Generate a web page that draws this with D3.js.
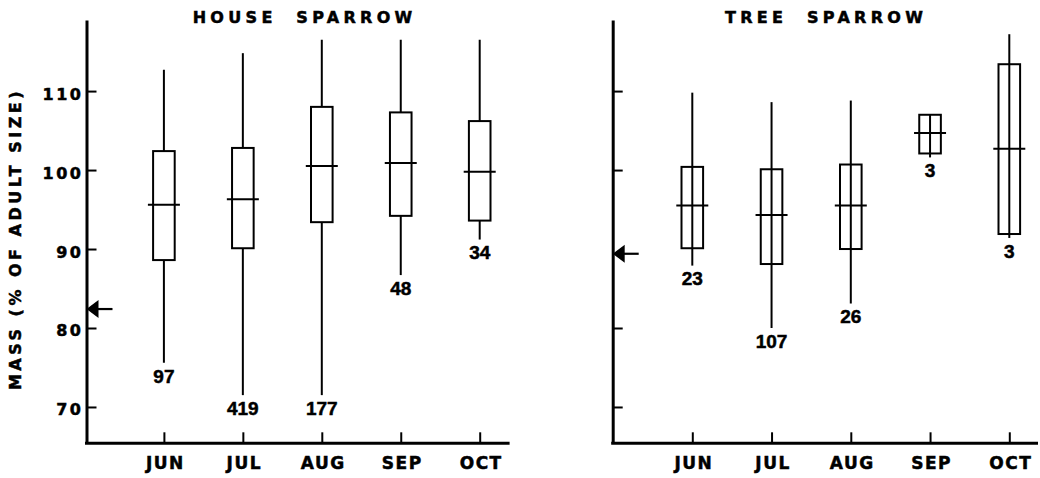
<!DOCTYPE html>
<html>
<head>
<meta charset="utf-8">
<script src="https://cdn.jsdelivr.net/npm/d3@7"></script>
<style>
  html, body { margin: 0; padding: 0; background: #fff; }
  svg { display: block; }
</style>
</head>
<body>
<svg id="chart" width="1040" height="478"></svg>
<script>
// ---------- data ----------
const months = ["JUN", "JUL", "AUG", "SEP", "OCT"];
const yTickValues = [70, 80, 90, 100, 110];
const yTickValuesTree = [70, 80, 100, 110];
const yLabel = "MASS (% OF ADULT SIZE)";

const houseTitle = "HOUSE  SPARROW";
const houseMin    = [75.6, 71.5, 71.5, 86.7, 91.2];
const houseQ1     = [88.6, 90.1, 93.4, 94.2, 93.6];
const houseMedian = [95.6, 96.3, 100.5, 100.9, 99.8];
const houseQ3     = [102.4, 102.8, 108.0, 107.3, 106.2];
const houseMax    = [112.7, 114.8, 116.5, 116.5, 116.5];
const houseN      = [97, 419, 177, 48, 34];
const houseArrow  = 82.4;

const treeTitle = "TREE  SPARROW";
const treeMin    = [87.9, 80.0, 83.1, 101.6, 91.4];
const treeQ1     = [90.1, 88.1, 90.0, 102.1, 91.9];
const treeMedian = [95.5, 94.3, 95.5, 104.7, 102.7];
const treeQ3     = [100.4, 100.1, 100.7, 107.0, 113.4];
const treeMax    = [109.8, 108.6, 108.8, 107.0, 117.2];
const treeN      = [23, 107, 26, 3, 3];
const treeArrow  = 89.4;

const yDomain = [65.4, 119];

// ---------- drawing ----------
const svg = d3.select("#chart");
svg.append("rect").attr("width", 1040).attr("height", 478).attr("fill", "#fff");

const wideFont = "'DejaVu Sans', sans-serif";
const numFont = "'Liberation Sans', Arial, sans-serif";
const ink = "#000";
const textStroke = 0.5;

const y = d3.scaleLinear().domain(yDomain).range([443.3, 20]);

function makeRows(mins, q1s, meds, q3s, maxs, ns) {
  return months.map((m, i) => ({
    month: m, min: mins[i], q1: q1s[i], med: meds[i], q3: q3s[i], max: maxs[i], n: ns[i]
  }));
}

const panels = [
  {
    title: houseTitle, titleX: 302.5, titleY: 23.3,
    axisX: 86.5, axisEnd: 509.6, xRange: [163.9, 479.7],
    rows: makeRows(houseMin, houseQ1, houseMedian, houseQ3, houseMax, houseN),
    arrow: houseArrow, through: false, labels: true, ticks: yTickValues
  },
  {
    title: treeTitle, titleX: 824, titleY: 22.7,
    axisX: 612.7, axisEnd: 1038, xRange: [692.3, 1009.3],
    rows: makeRows(treeMin, treeQ1, treeMedian, treeQ3, treeMax, treeN),
    arrow: treeArrow, through: true, labels: false, ticks: yTickValuesTree
  }
];

const boxW = 21.6, medW = 32;

function heavy(sel) {
  return sel.attr("stroke", ink).attr("stroke-width", textStroke).attr("fill", ink);
}

panels.forEach(p => {
  const x = d3.scalePoint().domain(months).range(p.xRange).padding(0);
  const g = svg.append("g");

  // title
  g.append("text")
    .attr("x", p.titleX + 2.1).attr("y", p.titleY)
    .attr("text-anchor", "middle")
    .attr("font-family", wideFont).attr("font-weight", "bold")
    .attr("font-size", 16).attr("letter-spacing", "4.3px")
    .style("white-space", "pre")
    .call(heavy)
    .text(p.title);

  // y axis
  const yAxis = d3.axisLeft(y)
    .tickValues(p.ticks)
    .tickSizeInner(-10).tickSizeOuter(0)
    .tickPadding(3)
    .tickFormat(p.labels ? d3.format("d") : () => "");
  const ya = g.append("g").attr("transform", `translate(${p.axisX},0)`).call(yAxis);
  ya.select(".domain").attr("stroke", ink).attr("stroke-width", 3);
  ya.selectAll(".tick line").attr("stroke", ink).attr("stroke-width", 2);
  ya.selectAll(".tick text")
    .attr("font-family", wideFont).attr("font-weight", "bold")
    .attr("font-size", 16).attr("letter-spacing", "2.5px")
    .attr("dy", "0.5em")
    .call(heavy);

  // x axis
  const xAxis = d3.axisBottom(x).tickSizeInner(-11).tickSizeOuter(0);
  const xa = g.append("g").attr("transform", `translate(0,${y.range()[0]})`).call(xAxis);
  xa.select(".domain").remove();
  xa.append("line")
    .attr("x1", p.axisX - 1.5).attr("x2", p.axisEnd)
    .attr("y1", 0).attr("y2", 0)
    .attr("stroke", ink).attr("stroke-width", 3);
  xa.selectAll(".tick line").attr("stroke", ink).attr("stroke-width", 2);
  xa.selectAll(".tick text")
    .attr("y", 26).attr("dy", 0).attr("dx", "1px")
    .attr("font-family", wideFont).attr("font-weight", "bold")
    .attr("font-size", 17).attr("letter-spacing", "1.5px")
    .call(heavy);

  // boxes
  const bg = g.append("g").attr("stroke", ink).attr("stroke-width", 2);
  p.rows.forEach(d => {
    const cx = x(d.month);
    if (p.through) {
      bg.append("line").attr("x1", cx).attr("x2", cx)
        .attr("y1", y(d.max)).attr("y2", y(d.min));
    } else {
      bg.append("line").attr("x1", cx).attr("x2", cx)
        .attr("y1", y(d.max)).attr("y2", y(d.q3));
      bg.append("line").attr("x1", cx).attr("x2", cx)
        .attr("y1", y(d.q1)).attr("y2", y(d.min));
    }
    bg.append("rect")
      .attr("x", cx - boxW / 2).attr("width", boxW)
      .attr("y", y(d.q3)).attr("height", y(d.q1) - y(d.q3))
      .attr("fill", "none");
    bg.append("line")
      .attr("x1", cx - medW / 2).attr("x2", cx + medW / 2)
      .attr("y1", y(d.med)).attr("y2", y(d.med));
    g.append("text")
      .attr("x", cx).attr("y", y(d.min) + 19.8)
      .attr("text-anchor", "middle")
      .attr("font-family", numFont).attr("font-weight", "bold")
      .attr("font-size", 19)
      .call(heavy)
      .text(d.n);
  });

  // arrow (adult mass reference)
  const ay = y(p.arrow);
  g.append("line")
    .attr("x1", p.axisX + 8).attr("x2", p.axisX + 26)
    .attr("y1", ay).attr("y2", ay)
    .attr("stroke", ink).attr("stroke-width", 2.2);
  g.append("path")
    .attr("d", d3.line()([[p.axisX, ay], [p.axisX + 12, ay - 9], [p.axisX + 12, ay + 9]]) + "Z")
    .attr("fill", ink);
});

// y axis label
svg.append("text")
  .attr("transform", "translate(20.5,239) rotate(-90)")
  .attr("text-anchor", "middle")
  .attr("font-family", wideFont).attr("font-weight", "bold")
  .attr("font-size", 16).attr("letter-spacing", "3.5px")
  .call(heavy)
  .text(yLabel);
</script>
</body>
</html>
